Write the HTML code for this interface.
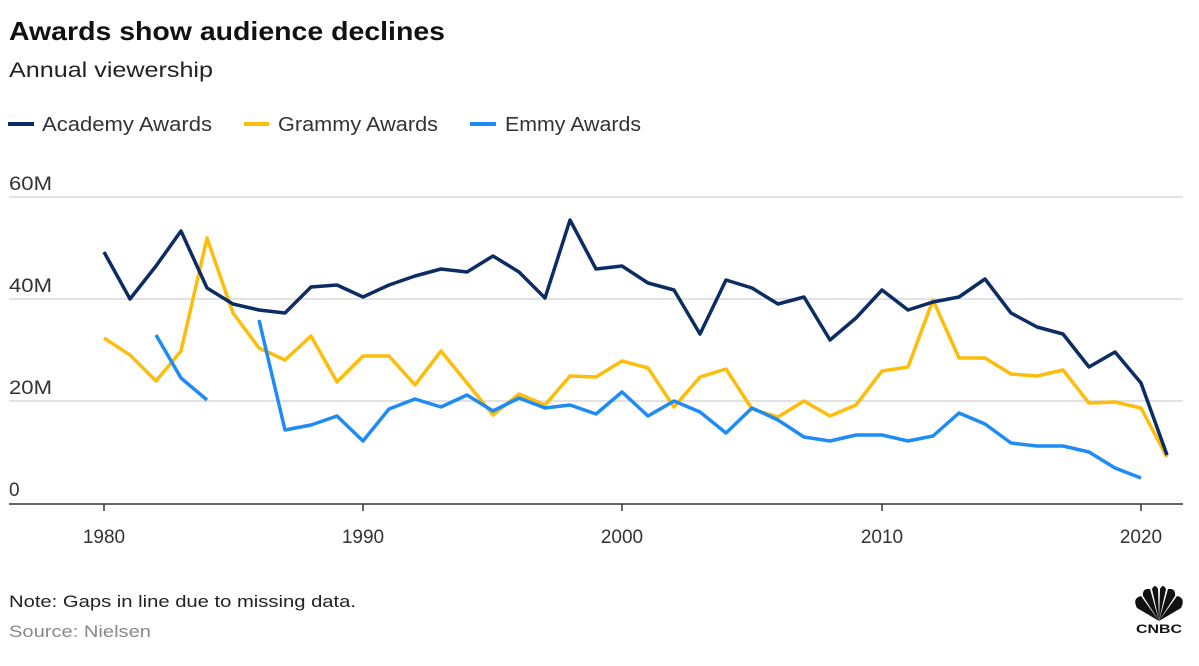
<!DOCTYPE html>
<html><head><meta charset="utf-8"><style>
body{margin:0;background:#fff;width:1199px;height:661px;overflow:hidden}
svg text{font-family:"Liberation Sans",sans-serif}
</style></head><body>
<svg width="1199" height="661" viewBox="0 0 1199 661">
<text x="9" y="40" font-size="26" font-weight="bold" fill="#111" textLength="436" lengthAdjust="spacingAndGlyphs">Awards show audience declines</text>
<text x="9" y="77" font-size="21" fill="#222" textLength="204" lengthAdjust="spacingAndGlyphs">Annual viewership</text>
<g font-size="20" fill="#333">
<line x1="8" y1="124" x2="34" y2="124" stroke="#0c2d63" stroke-width="4"/><text x="42" y="131" textLength="170" lengthAdjust="spacingAndGlyphs">Academy Awards</text>
<line x1="244" y1="124" x2="269" y2="124" stroke="#fcbd0b" stroke-width="4"/><text x="278" y="131" textLength="160" lengthAdjust="spacingAndGlyphs">Grammy Awards</text>
<line x1="470" y1="124" x2="496" y2="124" stroke="#1f8bf5" stroke-width="4"/><text x="505" y="131" textLength="136" lengthAdjust="spacingAndGlyphs">Emmy Awards</text>
</g>
<g stroke="#d8d8d8" stroke-width="1.5">
<line x1="9" y1="197" x2="1183" y2="197"/><line x1="9" y1="299" x2="1183" y2="299"/><line x1="9" y1="401" x2="1183" y2="401"/>
</g>
<g font-size="19" fill="#333">
<text x="9" y="190" textLength="43" lengthAdjust="spacingAndGlyphs">60M</text><text x="9" y="292" textLength="43" lengthAdjust="spacingAndGlyphs">40M</text><text x="9" y="394" textLength="43" lengthAdjust="spacingAndGlyphs">20M</text><text x="9" y="496">0</text>
</g>
<line x1="9" y1="504" x2="1183" y2="504" stroke="#333" stroke-width="1.5"/>
<g stroke="#333" stroke-width="1.5">
<line x1="104" y1="504" x2="104" y2="511"/><line x1="363" y1="504" x2="363" y2="511"/><line x1="622" y1="504" x2="622" y2="511"/><line x1="882" y1="504" x2="882" y2="511"/><line x1="1141" y1="504" x2="1141" y2="511"/>
</g>
<g font-size="19" fill="#333" text-anchor="middle">
<text x="104" y="543">1980</text><text x="363" y="543">1990</text><text x="622" y="543">2000</text><text x="882" y="543">2010</text><text x="1141" y="543">2020</text>
</g>
<g fill="none" stroke-width="3.5" stroke-linejoin="round">
<polyline stroke="#fcbd0b" points="104,338 130,355 156,381 181,351 207,238 233,313 259,348 285,360 311,336 337,382 363,356 389,356 415,385 441,351 467,383 493,415 519,394 545,405 570,376 596,377 622,361 648,368 674,407 700,377 726,369 752,409 778,417 804,401 830,416 856,405 882,371 908,367 933,300 959,358 985,358 1011,374 1037,376 1063,370 1089,403 1115,402 1141,408 1167,457"/>
<polyline stroke="#1f8bf5" points="156,335 181,378 207,400"/>
<polyline stroke="#1f8bf5" points="259,320 285,430 311,425 337,416 363,441 389,409 415,399 441,407 467,395 493,411 519,398 545,408 570,405 596,414 622,392 648,416 674,401 700,412 726,433 752,408 778,420 804,437 830,441 856,435 882,435 908,441 933,436 959,413 985,424 1011,443 1037,446 1063,446 1089,452 1115,468 1141,478"/>
<polyline stroke="#0c2d63" points="104,252 130,299 156,266 181,231 207,288 233,304 259,310 285,313 311,287 337,285 363,297 389,285 415,276 441,269 467,272 493,256 519,272 545,298 570,220 596,269 622,266 648,283 674,290 700,334 726,280 752,288 778,304 804,297 830,340 856,318 882,290 908,310 933,302 959,297 985,279 1011,313 1037,327 1063,334 1089,367 1115,352 1141,383 1167,455"/>
</g>
<text x="9" y="607" font-size="17" fill="#222" textLength="347" lengthAdjust="spacingAndGlyphs">Note: Gaps in line due to missing data.</text>
<text x="9" y="637" font-size="17" fill="#888" textLength="142" lengthAdjust="spacingAndGlyphs">Source: Nielsen</text>
<g fill="#111">
<path d="M1159,621 L1137,608 Q1132,598 1141,596 Z"/>
<path d="M1159,621 L1143,596 Q1142,588 1150,589 Z"/>
<path d="M1159,621 L1152,589 Q1155,583 1158,589 Z"/>
<path d="M1159,621 L1160,589 Q1163,583 1166,589 Z"/>
<path d="M1159,621 L1168,589 Q1176,588 1175,596 Z"/>
<path d="M1159,621 L1177,596 Q1186,598 1181,608 Z"/>
<text x="1159" y="633" font-size="12" font-weight="bold" text-anchor="middle" textLength="46" lengthAdjust="spacingAndGlyphs">CNBC</text>
</g>
</svg>
</body></html>
